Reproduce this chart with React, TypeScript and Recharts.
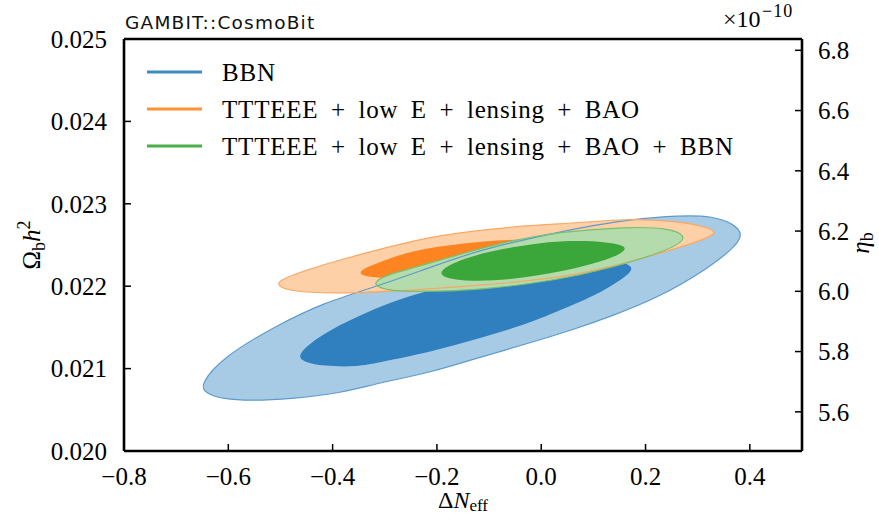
import { ComposedChart, Scatter, XAxis, YAxis } from 'recharts';

// contour edges, walked round each region: [ΔNeff, Ωb h²]
const bbnOuter = [
  [-0.655, 0.0208], [-0.61, 0.02114], [-0.514, 0.0215], [-0.418, 0.0218], [-0.309, 0.02201],
  [-0.213, 0.02223], [-0.117, 0.02244], [-0.022, 0.02258], [0.074, 0.02271], [0.17, 0.02281],
  [0.266, 0.02286], [0.33, 0.02285], [0.368, 0.02276], [0.388, 0.02263], [0.37, 0.02247],
  [0.323, 0.02223], [0.228, 0.02187], [0.132, 0.02163], [0.074, 0.0215], [-0.022, 0.02131],
  [-0.117, 0.02114], [-0.213, 0.02095], [-0.309, 0.02083], [-0.386, 0.0207], [-0.482, 0.02063],
  [-0.558, 0.02061], [-0.61, 0.02063], [-0.643, 0.0207],
];
const bbnInner = [
  [-0.47, 0.02117], [-0.418, 0.02143], [-0.353, 0.02163], [-0.29, 0.02181], [-0.213, 0.02195],
  [-0.117, 0.02211], [-0.022, 0.02222], [0.074, 0.0223], [0.14, 0.02233], [0.182, 0.02224],
  [0.162, 0.02211], [0.099, 0.02187], [0.036, 0.02171], [-0.022, 0.02155], [-0.117, 0.02137],
  [-0.213, 0.0212], [-0.309, 0.02108], [-0.353, 0.02102], [-0.418, 0.02103], [-0.457, 0.02108],
];
const cmbOuter = [
  [-0.52, 0.02204], [-0.449, 0.0222], [-0.386, 0.02232], [-0.29, 0.02248], [-0.213, 0.0226],
  [-0.117, 0.02268], [-0.022, 0.02274], [0.074, 0.02277], [0.164, 0.02282], [0.26, 0.02279],
  [0.318, 0.02272], [0.342, 0.02264], [0.291, 0.02252], [0.228, 0.0224], [0.132, 0.02223],
  [0.036, 0.0221], [-0.117, 0.02201], [-0.246, 0.02195], [-0.386, 0.02191], [-0.482, 0.02193],
];
const cmbInner = [
  [-0.36, 0.02216], [-0.315, 0.02228], [-0.246, 0.02244], [-0.15, 0.02252], [-0.066, 0.02257],
  [0.03, 0.02256], [0.092, 0.02246], [0.05, 0.02234], [-0.04, 0.02226], [-0.17, 0.02214],
  [-0.323, 0.02208],
];
const allOuter = [
  [-0.328, 0.02204], [-0.29, 0.02215], [-0.246, 0.02222], [-0.15, 0.0224], [-0.054, 0.02256],
  [0.036, 0.02266], [0.164, 0.02272], [0.247, 0.02271], [0.288, 0.02258], [0.228, 0.0224],
  [0.132, 0.02222], [0.036, 0.02208], [-0.117, 0.02195], [-0.246, 0.02193], [-0.3, 0.02195],
];
const allInner = [
  [-0.212, 0.02214], [-0.15, 0.02235], [-0.054, 0.02248], [0.036, 0.02256], [0.132, 0.02254],
  [0.174, 0.02247], [0.132, 0.02232], [0.036, 0.02217], [-0.054, 0.02208], [-0.15, 0.02205],
];

const xTicks = [-0.8, -0.6, -0.4, -0.2, 0.0, 0.2, 0.4];
const omegaTicks = [0.02, 0.021, 0.022, 0.023, 0.024, 0.025];
const etaTicks = [5.6, 5.8, 6.0, 6.2, 6.4, 6.6, 6.8];

const legendItems = [
  { label: 'BBN', color: '#1f77b4' },
  { label: 'TTTEEE + low E + lensing + BAO', color: '#ff7f0e' },
  { label: 'TTTEEE + low E + lensing + BAO + BBN', color: '#2ca02c' },
];

const toPts = (arr: number[][]) => arr.map(([x, y]) => ({ x, y }));

const serif = '"Liberation Serif", "Times New Roman", serif';
const fmt = (d: number) => (v: number) => v.toFixed(d).replace('-', '\u2212');
const noDot = () => <g />;

const tickStyle = { fontFamily: serif, fontSize: 25, fill: '#000' };
const spine = { stroke: '#000', strokeWidth: 2.6 };
const tickLn = { stroke: '#000', strokeWidth: 1.5 };

export default function App() {
  const fills = [
    { key: 'b2', data: bbnOuter, fill: '#a8cbe5' },
    { key: 'b1', data: bbnInner, fill: '#3080bf' },
    { key: 'c2', data: cmbOuter, fill: '#fdd0a8' },
    { key: 'c1', data: cmbInner, fill: '#fe8421' },
    { key: 'a2', data: allOuter, fill: '#b3dbab' },
    { key: 'a1', data: allInner, fill: '#3ba63a' },
  ];
  const edges = [
    { key: 'be', data: bbnOuter, stroke: '#5e9bcc' },
    { key: 'ce', data: cmbOuter, stroke: '#f7a865' },
    { key: 'ae', data: allOuter, stroke: '#79c06d' },
  ];

  return (
    <div style={{ position: 'absolute', left: 0, top: 0, width: 879, height: 516, background: '#fff' }}>
      <ComposedChart width={879} height={516} margin={{ top: 0, right: 0, bottom: 0, left: 0 }}>
        {fills.map((f) => (
          <Scatter
            key={f.key}
            data={toPts(f.data)}
            xAxisId="x"
            yAxisId="om"
            shape={noDot}
            line={{ fill: f.fill, stroke: 'none' }}
            lineType="joint"
            lineJointType="basisClosed"
            legendType="none"
            isAnimationActive={false}
          />
        ))}
        {edges.map((e) => (
          <Scatter
            key={e.key}
            data={toPts(e.data)}
            xAxisId="x"
            yAxisId="om"
            shape={noDot}
            line={{ fill: 'none', stroke: e.stroke, strokeWidth: 1.2 }}
            lineType="joint"
            lineJointType="basisClosed"
            legendType="none"
            isAnimationActive={false}
          />
        ))}
        <XAxis
          xAxisId="x"
          dataKey="x"
          type="number"
          domain={[-0.8, 0.5]}
          ticks={xTicks}
          interval={0}
          allowDataOverflow
          height={65}
          tickSize={-7}
          tickMargin={23}
          tick={tickStyle}
          tickFormatter={fmt(1)}
          axisLine={spine}
          tickLine={tickLn}
        />
        <XAxis
          xAxisId="top"
          orientation="top"
          type="number"
          domain={[-0.8, 0.5]}
          ticks={xTicks}
          interval={0}
          allowDataOverflow
          height={39}
          tickSize={-7}
          tick={false}
          axisLine={spine}
          tickLine={tickLn}
        />
        <YAxis
          yAxisId="om"
          dataKey="y"
          type="number"
          domain={[0.02, 0.025]}
          ticks={omegaTicks}
          interval={0}
          allowDataOverflow
          width={124}
          tickSize={-7}
          tickMargin={24}
          tick={tickStyle}
          tickFormatter={fmt(3)}
          axisLine={spine}
          tickLine={tickLn}
        />
        <YAxis
          yAxisId="eta"
          orientation="right"
          type="number"
          domain={[5.47, 6.8375]}
          ticks={etaTicks}
          interval={0}
          allowDataOverflow
          width={77}
          tickSize={-7}
          tickMargin={23}
          tick={tickStyle}
          tickFormatter={fmt(1)}
          axisLine={spine}
          tickLine={tickLn}
        />
      </ComposedChart>

      <svg
        width={879}
        height={516}
        style={{ position: 'absolute', left: 0, top: 0, pointerEvents: 'none' }}
      >
        <text x={125} y={29} fontFamily='"DejaVu Sans", sans-serif' fontSize={18.5} letterSpacing={1.2} fill="#111">
          GAMBIT::CosmoBit
        </text>
        <text x={723} y={27} fontFamily={serif} fontSize={24} fill="#000">
          ×10
          <tspan x={762} y={17} fontSize={18} letterSpacing={1}>
            −10
          </tspan>
        </text>

        {legendItems.map((item, i) => (
          <g key={item.label}>
            <line x1={147} x2={202} y1={72 + i * 37} y2={72 + i * 37} stroke={item.color} strokeWidth={3} strokeOpacity={0.85} />
            <text
              x={222}
              y={81 + i * 37}
              fontFamily={serif}
              fontSize={25}
              letterSpacing={0.8}
              wordSpacing={5.5}
              fill="#000"
            >
              {item.label}
            </text>
          </g>
        ))}

        <text x={463} y={508} textAnchor="middle" fontFamily={serif} fontSize={24} fill="#000">
          Δ<tspan fontStyle="italic">N</tspan>
          <tspan fontSize={17} dy={3}>eff</tspan>
        </text>

        <text
          x={0}
          y={0}
          transform="translate(40,245) rotate(-90)"
          textAnchor="middle"
          fontFamily={serif}
          fontSize={25}
          fill="#000"
        >
          Ω<tspan fontSize={18} dy={5}>b</tspan>
          <tspan fontStyle="italic" dy={-5}>h</tspan>
          <tspan fontSize={18} dy={-10}>2</tspan>
        </text>

        <text
          x={0}
          y={0}
          transform="translate(869,243) rotate(-90)"
          textAnchor="middle"
          fontFamily={serif}
          fontSize={25}
          fontStyle="italic"
          fill="#000"
        >
          η<tspan fontSize={18} fontStyle="normal" dy={4}>b</tspan>
        </text>
      </svg>
    </div>
  );
}
